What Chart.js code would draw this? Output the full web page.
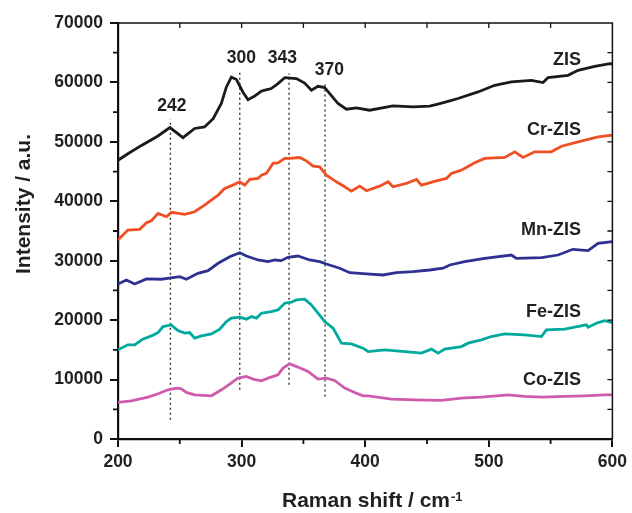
<!DOCTYPE html>
<html>
<head>
<meta charset="utf-8">
<script src="https://cdn.jsdelivr.net/npm/chart.js@4.4.1/dist/chart.umd.min.js"></script>
<style>
html,body{margin:0;padding:0;background:#fff;}
canvas{display:block;}
</style>
</head>
<body>
<canvas id="c" width="632" height="513"></canvas>
<script>
// ---- data ----
const zisX = [200,208,219,232,242,252.6,262,270,277,283.6,287.7,291.7,295.8,301,305.2,310.6,316,324,329.4,334.9,344.3,351,356.5,361.8,367.2,371.3,378,384.8,392.9,403.6,422.5,438.7,452.2,460.3,468.4,475.1,491.3,504.8,518.3,534.5,543.9,548,564.1,572.2,585.7,597.8,600];
const zisY = [46900,48000,49400,50950,52400,50700,52250,52500,53900,56450,59240,60900,60500,58400,57100,57700,58550,58970,59800,60800,60650,59900,58700,59350,59130,58130,56450,55490,55710,55320,56050,55880,56000,56450,56900,57290,58400,59520,60080,60360,59980,60820,61200,62040,62710,63170,63100];

const crX = [200,208,217.6,223,227,232.4,239.2,243.2,254,262,270,275.5,281,286.3,293,298.5,302.5,306.6,313.3,316,320,325.4,329.4,334.9,338.9,347,352.4,357.8,363.2,368.6,376.7,383.4,388.8,395.6,401,411.7,418.5,422.5,433.3,441.4,445.5,457.6,465.7,469.7,477.8,488.6,496.7,512.9,521,527.7,537.1,550.6,558.8,572.2,588.4,600];
const crY = [33480,35160,35280,36390,36730,37970,37400,38140,37800,38240,39360,40200,41040,42160,42720,43280,42720,43680,43850,44400,44690,46370,46470,47210,47210,47370,46800,45910,45800,44400,43280,42440,41710,42550,41770,42550,43280,42440,43000,43680,42720,43450,43850,44690,45240,46470,47210,47370,48320,47370,48320,48320,49270,50000,50840,51120];

const mnX = [200,206.8,213.5,223,235,243,250,255.3,264.7,272.8,281,290.4,298.5,303.9,313.3,321.4,326.8,332,337.5,345.6,355,363.2,368.6,379.4,387.5,401,414.4,425.2,438.7,452.2,463,468.4,480.5,496.7,518.3,522.3,542.6,556,568,580.3,588.4,600];
const mnY = [26090,26760,26090,26930,26880,27100,27320,26880,27880,28330,29570,30680,31350,30790,30120,29840,30120,30010,30580,30790,30120,29840,29450,28730,27990,27770,27600,27990,28160,28440,28730,29280,29840,30400,30960,30400,30510,30960,31920,31690,32930,33200];

const feX = [200,208,213.5,220,227,232.4,236.4,243,248.5,254,258,262,267.5,275.6,282.3,287.7,291.7,298.5,303.9,308,312,316,324,329.4,334.9,340.3,344.3,351,356.5,361.8,367.2,374,380.8,388.8,398.2,402.3,415.8,432,445.5,453.6,459,464.3,477.8,483.2,494,502,513,529,542.6,546.6,561.4,569.5,579,580.3,588.4,593.8,600];
const feY = [15000,15840,15840,16800,17350,17910,18920,19200,18240,17810,17910,16970,17350,17690,18480,19760,20330,20500,20160,20600,20330,21170,21440,21720,22850,23020,23400,23520,22560,21170,19760,18650,16130,16010,15290,14720,15000,14720,14450,15120,14450,15120,15560,16130,16680,17240,17690,17520,17240,18360,18480,18810,19200,18810,19590,19920,19590];

const coX = [200,210.8,224.3,232.4,240.5,247.3,251.3,255.3,262,275.6,283.7,290.4,297.1,303.9,309.2,316,321.4,329.4,333.5,338.9,345.6,353.7,361.8,368.6,375.3,383.4,391.5,398.2,402.3,421.2,440,461.6,477.8,494,515.5,529,542.6,561.4,577.6,593.8,600];
const coY = [6150,6430,7060,7610,8280,8570,8450,7830,7440,7270,8280,9240,10250,10520,10080,9790,10250,10800,11930,12650,12100,11360,10080,10250,9850,8570,7830,7270,7270,6720,6600,6490,6890,7060,7440,7160,7060,7160,7270,7440,7440];

const seriesNames = ['ZIS','Cr-ZIS','Mn-ZIS','Fe-ZIS','Co-ZIS'];
const seriesColors = ['#1a1a1a','#f04e23','#2e3192','#00a99d','#cf5aae'];

// peak marker lines (Raman shift, bottom, top)
const peakNames = ['242','300','343','370'];
const peakLineX = [242.4,298.5,338.4,367.5];
const peakLineLow = [3240,8280,9120,7160];
const peakLineHigh = [53760,61760,61500,59800];

// tick settings
const xTicksMajor = [200,300,400,500,600];
const yTicksMajor = [0,10000,20000,30000,40000,50000,60000,70000];

// ---- annotation placement (data coordinates) ----
const peakLabelPos = [[243.6,56000],[299.8,64000],[333,64060],[371,62000]];
const seriesLabelPos = [[574.5,63720],[574.5,51960],[574.5,35160],[574.5,21440],[574.5,9840]];

function pts(xs, ys){ return xs.map((x,i)=>({x:x, y:ys[i]})); }

const seriesXY = [[zisX,zisY],[crX,crY],[mnX,mnY],[feX,feY],[coX,coY]];
const datasets = [];
seriesXY.forEach((s,i)=>{
  datasets.push({label:seriesNames[i], data:pts(s[0],s[1]), borderColor:seriesColors[i],
    borderWidth:2.8, pointRadius:0, tension:0, fill:false, order:1});
});
peakLineX.forEach((px,i)=>{
  datasets.push({label:'peak '+peakNames[i], data:[{x:px,y:peakLineLow[i]},{x:px,y:peakLineHigh[i]}],
    borderColor:'#333', borderWidth:1.4, borderDash:[2,3], pointRadius:0, fill:false, order:2});
});

const FONT = "'Liberation Sans', Arial, sans-serif";

const decor = {
  id:'decor',
  afterDatasetsDraw(chart){
    const {ctx, chartArea:a, scales:{x,y}} = chart;
    ctx.save();
    ctx.strokeStyle = '#111';
    // top & right frame
    ctx.lineWidth = 1.5;
    ctx.beginPath();
    ctx.moveTo(a.left, a.top); ctx.lineTo(a.right, a.top); ctx.lineTo(a.right, a.bottom);
    ctx.stroke();
    // minor outward ticks
    ctx.lineWidth = 1.8;
    ctx.beginPath();
    for (let v=250; v<600; v+=100){
      const p = x.getPixelForValue(v);
      ctx.moveTo(p, a.bottom); ctx.lineTo(p, a.bottom+5);
    }
    for (let v=5000; v<70000; v+=10000){
      const p = y.getPixelForValue(v);
      ctx.moveTo(a.left, p); ctx.lineTo(a.left-5, p);
    }
    ctx.stroke();
    // top & right inward ticks
    ctx.lineWidth = 1.3;
    ctx.beginPath();
    for (let v=250; v<600; v+=50){
      const p = x.getPixelForValue(v);
      ctx.moveTo(p, a.top); ctx.lineTo(p, a.top+5);
    }
    for (let v=5000; v<70000; v+=5000){
      const p = y.getPixelForValue(v);
      ctx.moveTo(a.right, p); ctx.lineTo(a.right-5, p);
    }
    ctx.stroke();

    ctx.fillStyle = '#231f20';
    // peak labels
    ctx.font = 'bold 17.5px ' + FONT;
    ctx.textAlign = 'center'; ctx.textBaseline = 'middle';
    peakNames.forEach((t,i)=>{
      ctx.fillText(t, x.getPixelForValue(peakLabelPos[i][0]), y.getPixelForValue(peakLabelPos[i][1]));
    });
    // series labels
    ctx.font = 'bold 18px ' + FONT;
    ctx.textAlign = 'right';
    seriesNames.forEach((t,i)=>{
      ctx.fillText(t, x.getPixelForValue(seriesLabelPos[i][0]), y.getPixelForValue(seriesLabelPos[i][1]));
    });
    // x title with superscript
    ctx.textAlign = 'left'; ctx.textBaseline = 'alphabetic';
    ctx.font = 'bold 21px ' + FONT;
    const main = 'Raman shift / cm';
    const w = ctx.measureText(main).width;
    const sx = 282;
    ctx.fillText(main, sx, 507);
    ctx.font = 'bold 13px ' + FONT;
    ctx.fillText('-1', sx + w + 1, 501);
    // y title
    ctx.save();
    ctx.translate(30, 204);
    ctx.rotate(-Math.PI/2);
    ctx.font = 'bold 21px ' + FONT;
    ctx.textAlign = 'center';
    ctx.fillText('Intensity / a.u.', 0, 0);
    ctx.restore();
    ctx.restore();
  }
};

new Chart(document.getElementById('c'), {
  type:'line',
  data:{datasets},
  options:{
    responsive:false, animation:false,
    layout:{padding:{left:0, top:23, right:19, bottom:0}},
    plugins:{legend:{display:false}, tooltip:{enabled:false}},
    scales:{
      x:{type:'linear', min:200, max:600,
        afterBuildTicks(s){ s.ticks = xTicksMajor.map(v=>({value:v})); },
        afterFit(s){ s.height = 74; },
        grid:{display:true, drawOnChartArea:false, drawTicks:true, tickLength:8, lineWidth:2, color:'#111'},
        border:{display:true, width:2.2, color:'#111'},
        ticks:{color:'#231f20', font:{family:FONT, size:17.5, weight:'bold'}, padding:5, maxRotation:0,
          callback:v=>String(v)}
      },
      y:{type:'linear', min:0, max:70000,
        afterBuildTicks(s){ s.ticks = yTicksMajor.map(v=>({value:v})); },
        afterFit(s){ s.width = 118; },
        grid:{display:true, drawOnChartArea:false, drawTicks:true, tickLength:8, lineWidth:2, color:'#111'},
        border:{display:true, width:2.2, color:'#111'},
        ticks:{color:'#231f20', font:{family:FONT, size:17.5, weight:'bold'}, padding:7,
          callback:v=>String(v)}
      }
    }
  },
  plugins:[decor]
});
</script>
</body>
</html>
